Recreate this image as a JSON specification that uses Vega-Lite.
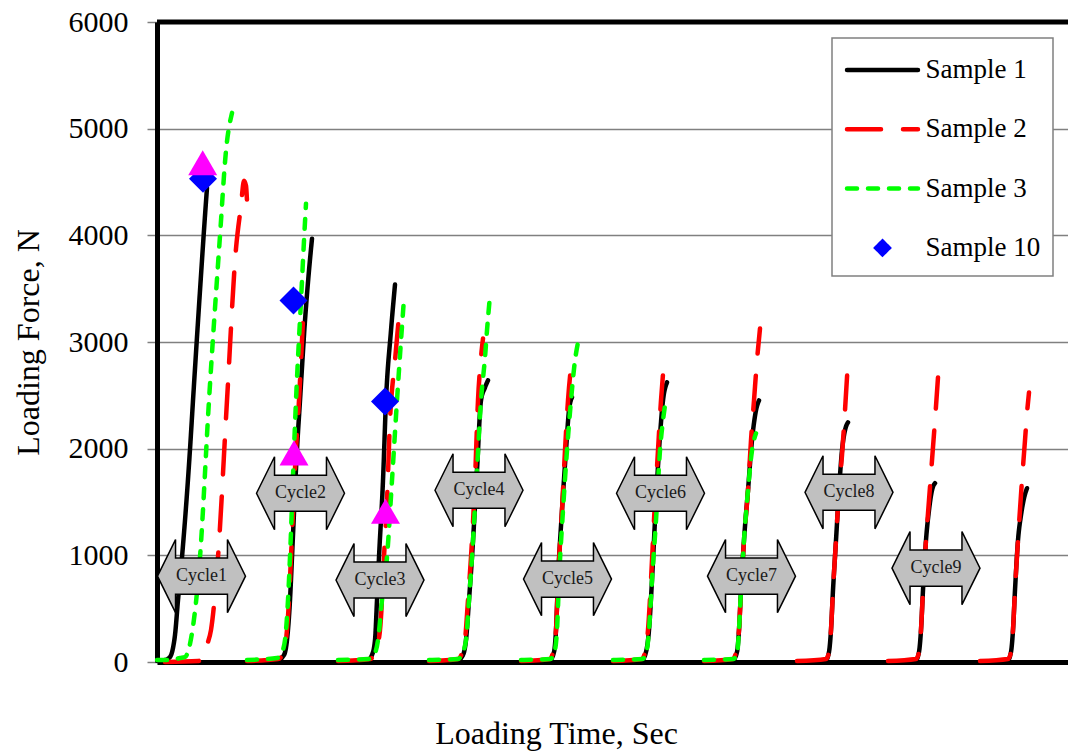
{
  "$schema": "https://vega.github.io/schema/vega-lite/v6.json",
  "width": 911,
  "height": 640,
  "autosize": {"type": "none"},
  "padding": {"left": 157, "top": 22, "right": 0, "bottom": 91},
  "background": "white",
  "config": {
    "font": "Liberation Serif",
    "view": {"stroke": null}
  },
  "datasets": {
    "curves": [
      {"sample":"Sample 1","cycle":1,"time":0.05,"force":9},{"sample":"Sample 1","cycle":1,"time":0.8,"force":19},{"sample":"Sample 1","cycle":1,"time":1.3,"force":47},{"sample":"Sample 1","cycle":1,"time":1.6,"force":131},{"sample":"Sample 1","cycle":1,"time":1.8,"force":253},{"sample":"Sample 1","cycle":1,"time":2.1,"force":580},{"sample":"Sample 1","cycle":1,"time":2.5,"force":983},{"sample":"Sample 1","cycle":1,"time":3.3,"force":1994},{"sample":"Sample 1","cycle":1,"time":3.6,"force":2452},{"sample":"Sample 1","cycle":1,"time":4.3,"force":3482},{"sample":"Sample 1","cycle":1,"time":4.8,"force":4184},{"sample":"Sample 1","cycle":1,"time":5.0,"force":4446},
      {"sample":"Sample 1","cycle":2,"time":9.0,"force":0},{"sample":"Sample 1","cycle":2,"time":12.1,"force":19},{"sample":"Sample 1","cycle":2,"time":12.7,"force":66},{"sample":"Sample 1","cycle":2,"time":13.0,"force":206},{"sample":"Sample 1","cycle":2,"time":13.3,"force":580},{"sample":"Sample 1","cycle":2,"time":13.5,"force":983},{"sample":"Sample 1","cycle":2,"time":14.0,"force":1994},{"sample":"Sample 1","cycle":2,"time":14.3,"force":2452},{"sample":"Sample 1","cycle":2,"time":14.8,"force":3201},{"sample":"Sample 1","cycle":2,"time":15.2,"force":3670},{"sample":"Sample 1","cycle":2,"time":15.5,"force":3969},
      {"sample":"Sample 1","cycle":3,"time":18.1,"force":0},{"sample":"Sample 1","cycle":3,"time":21.1,"force":19},{"sample":"Sample 1","cycle":3,"time":21.5,"force":66},{"sample":"Sample 1","cycle":3,"time":21.8,"force":206},{"sample":"Sample 1","cycle":3,"time":22.0,"force":580},{"sample":"Sample 1","cycle":3,"time":22.2,"force":983},{"sample":"Sample 1","cycle":3,"time":22.6,"force":1704},{"sample":"Sample 1","cycle":3,"time":22.9,"force":2452},{"sample":"Sample 1","cycle":3,"time":23.4,"force":3108},{"sample":"Sample 1","cycle":3,"time":23.8,"force":3538},
      {"sample":"Sample 1","cycle":4,"time":27.2,"force":0},{"sample":"Sample 1","cycle":4,"time":30.1,"force":19},{"sample":"Sample 1","cycle":4,"time":30.6,"force":66},{"sample":"Sample 1","cycle":4,"time":30.9,"force":206},{"sample":"Sample 1","cycle":4,"time":31.2,"force":580},{"sample":"Sample 1","cycle":4,"time":31.5,"force":983},{"sample":"Sample 1","cycle":4,"time":32.0,"force":1797},{"sample":"Sample 1","cycle":4,"time":32.4,"force":2452},{"sample":"Sample 1","cycle":4,"time":32.8,"force":2574},{"sample":"Sample 1","cycle":4,"time":33.1,"force":2640},
      {"sample":"Sample 1","cycle":5,"time":36.4,"force":0},{"sample":"Sample 1","cycle":5,"time":39.3,"force":19},{"sample":"Sample 1","cycle":5,"time":39.7,"force":94},{"sample":"Sample 1","cycle":5,"time":39.9,"force":300},{"sample":"Sample 1","cycle":5,"time":40.1,"force":768},{"sample":"Sample 1","cycle":5,"time":40.5,"force":1423},{"sample":"Sample 1","cycle":5,"time":40.9,"force":1984},{"sample":"Sample 1","cycle":5,"time":41.2,"force":2359},{"sample":"Sample 1","cycle":5,"time":41.5,"force":2481},
      {"sample":"Sample 1","cycle":6,"time":45.6,"force":0},{"sample":"Sample 1","cycle":6,"time":48.5,"force":19},{"sample":"Sample 1","cycle":6,"time":48.9,"force":94},{"sample":"Sample 1","cycle":6,"time":49.2,"force":300},{"sample":"Sample 1","cycle":6,"time":49.5,"force":768},{"sample":"Sample 1","cycle":6,"time":49.8,"force":1329},{"sample":"Sample 1","cycle":6,"time":50.2,"force":1984},{"sample":"Sample 1","cycle":6,"time":50.6,"force":2452},{"sample":"Sample 1","cycle":6,"time":51.0,"force":2621},
      {"sample":"Sample 1","cycle":7,"time":54.7,"force":0},{"sample":"Sample 1","cycle":7,"time":57.6,"force":19},{"sample":"Sample 1","cycle":7,"time":58.0,"force":94},{"sample":"Sample 1","cycle":7,"time":58.2,"force":300},{"sample":"Sample 1","cycle":7,"time":58.4,"force":674},{"sample":"Sample 1","cycle":7,"time":58.7,"force":1142},{"sample":"Sample 1","cycle":7,"time":59.1,"force":1610},{"sample":"Sample 1","cycle":7,"time":59.5,"force":2078},{"sample":"Sample 1","cycle":7,"time":59.9,"force":2359},{"sample":"Sample 1","cycle":7,"time":60.2,"force":2452},
      {"sample":"Sample 1","cycle":8,"time":64.1,"force":0},{"sample":"Sample 1","cycle":8,"time":66.9,"force":19},{"sample":"Sample 1","cycle":8,"time":67.2,"force":94},{"sample":"Sample 1","cycle":8,"time":67.4,"force":300},{"sample":"Sample 1","cycle":8,"time":67.6,"force":674},{"sample":"Sample 1","cycle":8,"time":67.9,"force":1142},{"sample":"Sample 1","cycle":8,"time":68.2,"force":1610},{"sample":"Sample 1","cycle":8,"time":68.5,"force":1984},{"sample":"Sample 1","cycle":8,"time":68.8,"force":2172},{"sample":"Sample 1","cycle":8,"time":69.1,"force":2247},
      {"sample":"Sample 1","cycle":9,"time":73.2,"force":0},{"sample":"Sample 1","cycle":9,"time":75.9,"force":19},{"sample":"Sample 1","cycle":9,"time":76.2,"force":94},{"sample":"Sample 1","cycle":9,"time":76.4,"force":300},{"sample":"Sample 1","cycle":9,"time":76.6,"force":674},{"sample":"Sample 1","cycle":9,"time":76.9,"force":1142},{"sample":"Sample 1","cycle":9,"time":77.2,"force":1423},{"sample":"Sample 1","cycle":9,"time":77.5,"force":1610},{"sample":"Sample 1","cycle":9,"time":77.8,"force":1676},
      {"sample":"Sample 1","cycle":10,"time":82.4,"force":0},{"sample":"Sample 1","cycle":10,"time":85.1,"force":19},{"sample":"Sample 1","cycle":10,"time":85.4,"force":94},{"sample":"Sample 1","cycle":10,"time":85.6,"force":300},{"sample":"Sample 1","cycle":10,"time":85.8,"force":674},{"sample":"Sample 1","cycle":10,"time":86.1,"force":1142},{"sample":"Sample 1","cycle":10,"time":86.4,"force":1376},{"sample":"Sample 1","cycle":10,"time":86.7,"force":1535},{"sample":"Sample 1","cycle":10,"time":87.0,"force":1629},

      {"sample":"Sample 2","cycle":1,"time":0.8,"force":0},{"sample":"Sample 2","cycle":1,"time":4.1,"force":9},{"sample":"Sample 2","cycle":1,"time":4.6,"force":47},{"sample":"Sample 2","cycle":1,"time":5.0,"force":159},{"sample":"Sample 2","cycle":1,"time":5.4,"force":300},{"sample":"Sample 2","cycle":1,"time":6.1,"force":983},{"sample":"Sample 2","cycle":1,"time":7.0,"force":2452},{"sample":"Sample 2","cycle":1,"time":7.9,"force":3875},{"sample":"Sample 2","cycle":1,"time":8.4,"force":4278},{"sample":"Sample 2","cycle":1,"time":8.7,"force":4512},{"sample":"Sample 2","cycle":1,"time":8.9,"force":4465},{"sample":"Sample 2","cycle":1,"time":9.0,"force":4325},
      {"sample":"Sample 2","cycle":2,"time":9.0,"force":9},{"sample":"Sample 2","cycle":2,"time":12.1,"force":28},{"sample":"Sample 2","cycle":2,"time":12.6,"force":75},{"sample":"Sample 2","cycle":2,"time":12.9,"force":206},{"sample":"Sample 2","cycle":2,"time":13.2,"force":580},{"sample":"Sample 2","cycle":2,"time":13.4,"force":983},{"sample":"Sample 2","cycle":2,"time":13.9,"force":1994},{"sample":"Sample 2","cycle":2,"time":14.2,"force":2452},{"sample":"Sample 2","cycle":2,"time":14.5,"force":3014},{"sample":"Sample 2","cycle":2,"time":14.7,"force":3389},
      {"sample":"Sample 2","cycle":3,"time":18.1,"force":9},{"sample":"Sample 2","cycle":3,"time":21.3,"force":28},{"sample":"Sample 2","cycle":3,"time":21.9,"force":112},{"sample":"Sample 2","cycle":3,"time":22.3,"force":300},{"sample":"Sample 2","cycle":3,"time":22.5,"force":580},{"sample":"Sample 2","cycle":3,"time":22.7,"force":983},{"sample":"Sample 2","cycle":3,"time":23.0,"force":1516},{"sample":"Sample 2","cycle":3,"time":23.3,"force":2265},{"sample":"Sample 2","cycle":3,"time":23.8,"force":2827},{"sample":"Sample 2","cycle":3,"time":24.3,"force":3342},
      {"sample":"Sample 2","cycle":4,"time":27.2,"force":9},{"sample":"Sample 2","cycle":4,"time":30.1,"force":28},{"sample":"Sample 2","cycle":4,"time":30.5,"force":84},{"sample":"Sample 2","cycle":4,"time":30.8,"force":206},{"sample":"Sample 2","cycle":4,"time":31.1,"force":580},{"sample":"Sample 2","cycle":4,"time":31.4,"force":983},{"sample":"Sample 2","cycle":4,"time":31.8,"force":1704},{"sample":"Sample 2","cycle":4,"time":32.1,"force":2452},{"sample":"Sample 2","cycle":4,"time":32.4,"force":2855},{"sample":"Sample 2","cycle":4,"time":32.6,"force":3033},
      {"sample":"Sample 2","cycle":5,"time":36.4,"force":9},{"sample":"Sample 2","cycle":5,"time":39.3,"force":28},{"sample":"Sample 2","cycle":5,"time":39.6,"force":94},{"sample":"Sample 2","cycle":5,"time":39.9,"force":300},{"sample":"Sample 2","cycle":5,"time":40.1,"force":768},{"sample":"Sample 2","cycle":5,"time":40.5,"force":1423},{"sample":"Sample 2","cycle":5,"time":40.8,"force":1984},{"sample":"Sample 2","cycle":5,"time":41.1,"force":2452},{"sample":"Sample 2","cycle":5,"time":41.5,"force":2846},
      {"sample":"Sample 2","cycle":6,"time":45.6,"force":9},{"sample":"Sample 2","cycle":6,"time":48.5,"force":28},{"sample":"Sample 2","cycle":6,"time":48.8,"force":94},{"sample":"Sample 2","cycle":6,"time":49.1,"force":300},{"sample":"Sample 2","cycle":6,"time":49.4,"force":768},{"sample":"Sample 2","cycle":6,"time":49.7,"force":1329},{"sample":"Sample 2","cycle":6,"time":50.1,"force":1984},{"sample":"Sample 2","cycle":6,"time":50.4,"force":2452},{"sample":"Sample 2","cycle":6,"time":50.7,"force":2808},
      {"sample":"Sample 2","cycle":7,"time":54.7,"force":9},{"sample":"Sample 2","cycle":7,"time":57.6,"force":28},{"sample":"Sample 2","cycle":7,"time":57.9,"force":94},{"sample":"Sample 2","cycle":7,"time":58.2,"force":300},{"sample":"Sample 2","cycle":7,"time":58.4,"force":674},{"sample":"Sample 2","cycle":7,"time":58.7,"force":1142},{"sample":"Sample 2","cycle":7,"time":59.1,"force":1610},{"sample":"Sample 2","cycle":7,"time":59.4,"force":2078},{"sample":"Sample 2","cycle":7,"time":59.7,"force":2452},{"sample":"Sample 2","cycle":7,"time":60.0,"force":2827},{"sample":"Sample 2","cycle":7,"time":60.3,"force":3126},
      {"sample":"Sample 2","cycle":8,"time":64.0,"force":9},{"sample":"Sample 2","cycle":8,"time":66.9,"force":28},{"sample":"Sample 2","cycle":8,"time":67.2,"force":94},{"sample":"Sample 2","cycle":8,"time":67.4,"force":300},{"sample":"Sample 2","cycle":8,"time":67.6,"force":674},{"sample":"Sample 2","cycle":8,"time":67.9,"force":1142},{"sample":"Sample 2","cycle":8,"time":68.2,"force":1610},{"sample":"Sample 2","cycle":8,"time":68.5,"force":1938},{"sample":"Sample 2","cycle":8,"time":68.8,"force":2359},{"sample":"Sample 2","cycle":8,"time":69.1,"force":2827},
      {"sample":"Sample 2","cycle":9,"time":73.1,"force":9},{"sample":"Sample 2","cycle":9,"time":75.9,"force":28},{"sample":"Sample 2","cycle":9,"time":76.2,"force":94},{"sample":"Sample 2","cycle":9,"time":76.4,"force":300},{"sample":"Sample 2","cycle":9,"time":76.6,"force":674},{"sample":"Sample 2","cycle":9,"time":76.9,"force":1142},{"sample":"Sample 2","cycle":9,"time":77.2,"force":1516},{"sample":"Sample 2","cycle":9,"time":77.5,"force":1891},{"sample":"Sample 2","cycle":9,"time":77.8,"force":2265},{"sample":"Sample 2","cycle":9,"time":78.1,"force":2668},
      {"sample":"Sample 2","cycle":10,"time":82.3,"force":9},{"sample":"Sample 2","cycle":10,"time":85.1,"force":28},{"sample":"Sample 2","cycle":10,"time":85.4,"force":94},{"sample":"Sample 2","cycle":10,"time":85.6,"force":300},{"sample":"Sample 2","cycle":10,"time":85.8,"force":674},{"sample":"Sample 2","cycle":10,"time":86.1,"force":1142},{"sample":"Sample 2","cycle":10,"time":86.5,"force":1704},{"sample":"Sample 2","cycle":10,"time":86.8,"force":2078},{"sample":"Sample 2","cycle":10,"time":87.0,"force":2331},{"sample":"Sample 2","cycle":10,"time":87.2,"force":2527},

      {"sample":"Sample 3","cycle":1,"time":0.0,"force":19},{"sample":"Sample 3","cycle":1,"time":1.3,"force":19},{"sample":"Sample 3","cycle":1,"time":2.3,"force":37},{"sample":"Sample 3","cycle":1,"time":2.8,"force":47},{"sample":"Sample 3","cycle":1,"time":3.5,"force":271},{"sample":"Sample 3","cycle":1,"time":4.3,"force":983},{"sample":"Sample 3","cycle":1,"time":5.2,"force":2452},{"sample":"Sample 3","cycle":1,"time":6.3,"force":3997},{"sample":"Sample 3","cycle":1,"time":6.9,"force":4793},{"sample":"Sample 3","cycle":1,"time":7.5,"force":5148},
      {"sample":"Sample 3","cycle":2,"time":9.0,"force":19},{"sample":"Sample 3","cycle":2,"time":12.0,"force":37},{"sample":"Sample 3","cycle":2,"time":12.5,"force":94},{"sample":"Sample 3","cycle":2,"time":12.8,"force":206},{"sample":"Sample 3","cycle":2,"time":13.1,"force":580},{"sample":"Sample 3","cycle":2,"time":13.3,"force":983},{"sample":"Sample 3","cycle":2,"time":13.7,"force":1994},{"sample":"Sample 3","cycle":2,"time":13.9,"force":2452},{"sample":"Sample 3","cycle":2,"time":14.4,"force":3389},{"sample":"Sample 3","cycle":2,"time":14.7,"force":3950},{"sample":"Sample 3","cycle":2,"time":14.9,"force":4297},
      {"sample":"Sample 3","cycle":3,"time":18.1,"force":19},{"sample":"Sample 3","cycle":3,"time":21.1,"force":28},{"sample":"Sample 3","cycle":3,"time":21.7,"force":66},{"sample":"Sample 3","cycle":3,"time":22.1,"force":206},{"sample":"Sample 3","cycle":3,"time":22.5,"force":580},{"sample":"Sample 3","cycle":3,"time":23.0,"force":983},{"sample":"Sample 3","cycle":3,"time":23.5,"force":1704},{"sample":"Sample 3","cycle":3,"time":24.0,"force":2452},{"sample":"Sample 3","cycle":3,"time":24.4,"force":3014},{"sample":"Sample 3","cycle":3,"time":24.7,"force":3407},
      {"sample":"Sample 3","cycle":4,"time":27.2,"force":19},{"sample":"Sample 3","cycle":4,"time":30.1,"force":28},{"sample":"Sample 3","cycle":4,"time":30.5,"force":75},{"sample":"Sample 3","cycle":4,"time":30.9,"force":206},{"sample":"Sample 3","cycle":4,"time":31.2,"force":580},{"sample":"Sample 3","cycle":4,"time":31.5,"force":983},{"sample":"Sample 3","cycle":4,"time":32.0,"force":1797},{"sample":"Sample 3","cycle":4,"time":32.4,"force":2452},{"sample":"Sample 3","cycle":4,"time":32.8,"force":2855},{"sample":"Sample 3","cycle":4,"time":33.0,"force":3108},{"sample":"Sample 3","cycle":4,"time":33.3,"force":3435},
      {"sample":"Sample 3","cycle":5,"time":36.4,"force":19},{"sample":"Sample 3","cycle":5,"time":39.3,"force":28},{"sample":"Sample 3","cycle":5,"time":39.7,"force":75},{"sample":"Sample 3","cycle":5,"time":40.0,"force":300},{"sample":"Sample 3","cycle":5,"time":40.2,"force":768},{"sample":"Sample 3","cycle":5,"time":40.6,"force":1423},{"sample":"Sample 3","cycle":5,"time":41.0,"force":1984},{"sample":"Sample 3","cycle":5,"time":41.4,"force":2452},{"sample":"Sample 3","cycle":5,"time":41.8,"force":2827},{"sample":"Sample 3","cycle":5,"time":42.1,"force":2995},
      {"sample":"Sample 3","cycle":6,"time":45.6,"force":19},{"sample":"Sample 3","cycle":6,"time":48.5,"force":28},{"sample":"Sample 3","cycle":6,"time":48.9,"force":75},{"sample":"Sample 3","cycle":6,"time":49.2,"force":300},{"sample":"Sample 3","cycle":6,"time":49.5,"force":768},{"sample":"Sample 3","cycle":6,"time":49.9,"force":1329},{"sample":"Sample 3","cycle":6,"time":50.3,"force":1984},{"sample":"Sample 3","cycle":6,"time":50.6,"force":2265},{"sample":"Sample 3","cycle":6,"time":50.8,"force":2406},
      {"sample":"Sample 3","cycle":7,"time":54.7,"force":19},{"sample":"Sample 3","cycle":7,"time":57.6,"force":28},{"sample":"Sample 3","cycle":7,"time":58.0,"force":75},{"sample":"Sample 3","cycle":7,"time":58.2,"force":300},{"sample":"Sample 3","cycle":7,"time":58.4,"force":674},{"sample":"Sample 3","cycle":7,"time":58.7,"force":1142},{"sample":"Sample 3","cycle":7,"time":59.1,"force":1610},{"sample":"Sample 3","cycle":7,"time":59.5,"force":1984},{"sample":"Sample 3","cycle":7,"time":59.9,"force":2144}
    ],
    "sample10": [
      {"sample":"Sample 10","cycle":1,"time":4.6,"force":4531},
      {"sample":"Sample 10","cycle":2,"time":13.65,"force":3389},
      {"sample":"Sample 10","cycle":3,"time":22.8,"force":2443}
    ],
    "triangles": [
      {"sample":"Unlabeled","cycle":1,"time":4.57,"force":4680},
      {"sample":"Unlabeled","cycle":2,"time":13.7,"force":1961},
      {"sample":"Unlabeled","cycle":3,"time":22.85,"force":1413}
    ],
    "cycles": [
      {"label":"Cycle1","time":4.45,"force":805},
      {"label":"Cycle2","time":14.35,"force":1582},
      {"label":"Cycle3","time":22.3,"force":768},
      {"label":"Cycle4","time":32.2,"force":1610},
      {"label":"Cycle5","time":41.05,"force":777},
      {"label":"Cycle6","time":50.35,"force":1582},
      {"label":"Cycle7","time":59.45,"force":805},
      {"label":"Cycle8","time":69.2,"force":1591},
      {"label":"Cycle9","time":77.9,"force":880}
    ]
  },
  "layer": [
    {
      "data": {"name": "curves"},
      "mark": {"type": "line", "strokeWidth": 4.5, "strokeCap": "round", "strokeJoin": "round", "interpolate": "monotone"},
      "encoding": {
        "x": {"field": "time", "type": "quantitative", "scale": {"domain": [0, 91.1], "nice": false},
          "axis": {"labels": false, "ticks": false, "grid": false, "domainColor": "black", "domainWidth": 5,
            "title": "Loading Time, Sec", "titleX": 399, "titleY": 81, "titleAlign": "center", "titleBaseline": "alphabetic",
            "titleFont": "Liberation Serif", "titleFontSize": 32, "titleFontWeight": "normal", "titleColor": "black"}},
        "y": {"field": "force", "type": "quantitative", "scale": {"domain": [0, 6000], "nice": false},
          "axis": {"values": [0, 1000, 2000, 3000, 4000, 5000, 6000], "format": "d", "domainColor": "black", "domainWidth": 5,
            "tickColor": "#808080", "tickWidth": 1.5, "tickSize": 10, "labelPadding": 19,
            "labelFont": "Liberation Serif", "labelFontSize": 30, "labelColor": "black",
            "gridColor": "#808080", "gridWidth": 1.5, "gridOpacity": 1,
            "title": "Loading Force, N", "titleX": -129, "titleY": 320, "titleAngle": 270, "titleAlign": "center", "titleBaseline": "middle",
            "titleFont": "Liberation Serif", "titleFontSize": 32, "titleFontWeight": "normal", "titleColor": "black"}},
        "color": {"field": "sample", "type": "nominal",
          "scale": {"domain": ["Sample 1", "Sample 2", "Sample 3", "Sample 10"], "range": ["#000000", "#FF0000", "#00FF00", "#0000FF"]},
          "legend": {"title": null, "orient": "none", "legendX": 675, "legendY": 16, "padding": 12,
            "strokeColor": "#808080", "fillColor": "white",
            "symbolSize": 1260, "symbolStrokeWidth": 4.5, "symbolOffset": 18.5, "labelOffset": 23, "rowPadding": 26.3,
            "labelFont": "Liberation Serif", "labelFontSize": 27, "labelColor": "black", "labelLimit": 0,
            "encode": {
              "legend": {"update": {"strokeWidth": {"value": 1.5}}},
              "symbols": {"update": {
                "shape": {"signal": "datum.value === 'Sample 10' ? 'M0,-0.35L0.35,0L0,0.35L-0.35,0Z' : 'M-2,0L2,0'"},
                "fill": {"signal": "datum.value === 'Sample 10' ? '#0000FF' : 'transparent'"},
                "strokeCap": {"value": "round"}
              }}
            }}},
        "strokeDash": {"field": "sample", "type": "nominal",
          "scale": {"domain": ["Sample 1", "Sample 2", "Sample 3", "Sample 10"], "range": [[1, 0], [34, 22], [10, 11], [1, 0]]},
          "legend": {"title": null, "orient": "none", "legendX": 675, "legendY": 16, "padding": 12,
            "strokeColor": "#808080", "fillColor": "white",
            "symbolSize": 1260, "symbolStrokeWidth": 4.5, "symbolOffset": 18.5, "labelOffset": 23, "rowPadding": 26.3,
            "labelFont": "Liberation Serif", "labelFontSize": 27, "labelColor": "black", "labelLimit": 0,
            "encode": {
              "legend": {"update": {"strokeWidth": {"value": 1.5}}},
              "symbols": {"update": {
                "shape": {"signal": "datum.value === 'Sample 10' ? 'M0,-0.35L0.35,0L0,0.35L-0.35,0Z' : 'M-2,0L2,0'"},
                "fill": {"signal": "datum.value === 'Sample 10' ? '#0000FF' : 'transparent'"},
                "strokeCap": {"value": "round"}
              }}
            }}},
        "detail": {"field": "cycle", "type": "nominal"}
      }
    },
    {
      "data": {"name": "cycles"},
      "mark": {"type": "point", "filled": true, "opacity": 1, "fill": "#C0C0C0", "stroke": "black", "strokeWidth": 1.5, "size": 7744,
        "shape": "M-1,0L-0.59,-0.83L-0.59,-0.41L0.59,-0.41L0.59,-0.83L1,0L0.59,0.83L0.59,0.41L-0.59,0.41L-0.59,0.83Z"},
      "encoding": {
        "x": {"field": "time", "type": "quantitative", "scale": {"domain": [0, 91.1], "nice": false}},
        "y": {"field": "force", "type": "quantitative", "scale": {"domain": [0, 6000], "nice": false}}
      }
    },
    {
      "data": {"name": "cycles"},
      "mark": {"type": "text", "font": "Liberation Serif", "fontSize": 18, "color": "#1a1a1a", "align": "center", "baseline": "middle"},
      "encoding": {
        "x": {"field": "time", "type": "quantitative", "scale": {"domain": [0, 91.1], "nice": false}},
        "y": {"field": "force", "type": "quantitative", "scale": {"domain": [0, 6000], "nice": false}},
        "text": {"field": "label", "type": "nominal"}
      }
    },
    {
      "data": {"name": "sample10"},
      "mark": {"type": "point", "shape": "diamond", "filled": true, "opacity": 1, "color": "#0000FF", "size": 784},
      "encoding": {
        "x": {"field": "time", "type": "quantitative", "scale": {"domain": [0, 91.1], "nice": false}},
        "y": {"field": "force", "type": "quantitative", "scale": {"domain": [0, 6000], "nice": false}}
      }
    },
    {
      "data": {"name": "triangles"},
      "mark": {"type": "point", "shape": "triangle-up", "filled": true, "opacity": 1, "color": "#FF00FF", "size": 840},
      "encoding": {
        "x": {"field": "time", "type": "quantitative", "scale": {"domain": [0, 91.1], "nice": false}},
        "y": {"field": "force", "type": "quantitative", "scale": {"domain": [0, 6000], "nice": false}}
      }
    },
    {
      "data": {"values": [{}]},
      "mark": {"type": "rule", "color": "black", "strokeWidth": 5},
      "encoding": {
        "y": {"datum": 6000, "type": "quantitative", "scale": {"domain": [0, 6000], "nice": false}}
      }
    }
  ]
}
